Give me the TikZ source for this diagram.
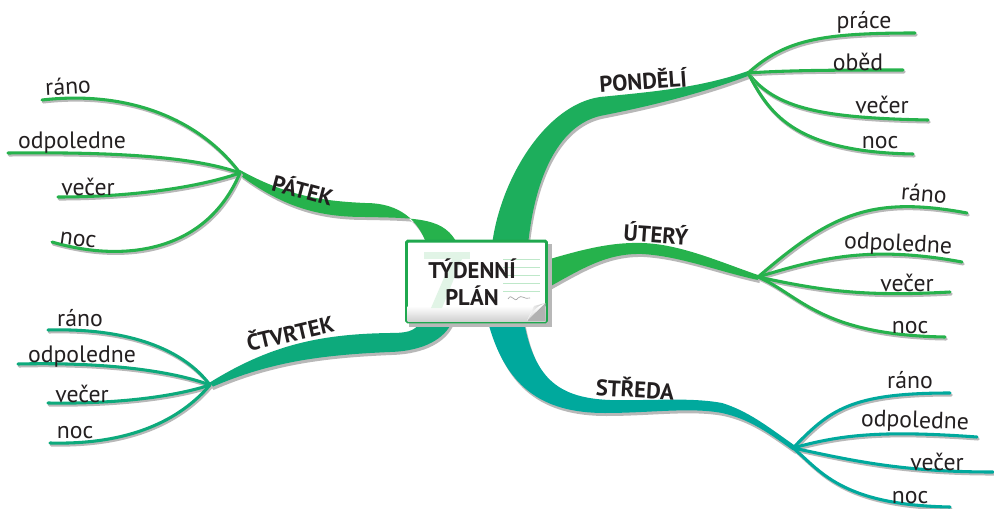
\documentclass[tikz,border=0pt]{standalone}
\usepackage{fontspec}
\setmainfont{PT Sans}
\definecolor{gA}{HTML}{26B24C}
\definecolor{gPon}{HTML}{1DAE5C}
\definecolor{gCt}{HTML}{0DAA7C}
\definecolor{gSt}{HTML}{00A99D}
\definecolor{txt}{HTML}{231F20}
\definecolor{shad}{HTML}{B8B8B8}
\definecolor{boxgreen}{HTML}{1FA84E}
\tikzset{
  sublab/.style={font=\fontsize{17.8}{17.8}\selectfont, text=txt, inner sep=0pt, anchor=center},
  mainlab/.style={font=\bfseries\fontsize{17}{17}\selectfont, text=txt, inner sep=0pt, anchor=center},
  twigline/.style={line width=2.3pt, line cap=round},
  twigshadow/.style={line width=2.3pt, line cap=round, draw=shad},
  bandshadow/.style={fill=shad},
}
\newcommand\twig[5]{%
  \draw[twigshadow, shift={(1.2,2)}] ([shift={(1.2,2)}]#2) .. controls #3 and #4 .. ([shift={(1.2,2)}]#5);
  \draw[twigline, draw=#1] (#2) .. controls #3 and #4 .. (#5);}
\newcommand\bandPon{(492,245) .. controls (500,180) and (545,105) .. (600,97) .. controls (650,92) and (700,88) .. (748,71) -- (748,76) .. controls (705,92) and (660,104) .. (605,115) .. controls (560,122) and (535,175) .. (528,245) -- cycle}
\newcommand\bandUte{(540,262) .. controls (580,250) and (610,242) .. (642,243) .. controls (680,244) and (720,262) .. (758,275) -- (758,280) .. controls (720,272) and (680,256) .. (642,254) .. controls (605,253) and (580,270) .. (540,292) -- cycle}
\newcommand\bandStr{(488,322) .. controls (505,385) and (540,413) .. (605,413) .. controls (650,413) and (690,407) .. (722,413) .. controls (750,419) and (770,434) .. (794,451) -- (794,445) .. controls (767,426) and (748,411) .. (722,403) .. controls (690,397) and (650,401) .. (610,400) .. controls (560,398) and (535,380) .. (524,322) -- cycle}
\newcommand\bandPat{(427,245) .. controls (418,220) and (400,203) .. (365,203) .. controls (320,201) and (285,195) .. (240,170) -- (241,176) .. controls (285,208) and (320,217) .. (365,217) .. controls (420,218) and (445,218) .. (458,245) -- cycle}
\newcommand\bandCtv{(420,322) .. controls (415,332) and (405,333) .. (390,333) .. controls (320,334) and (270,345) .. (209,383) -- (212,387) .. controls (270,362) and (320,355) .. (390,352) .. controls (425,351) and (445,338) .. (452,322) -- cycle}
\begin{document}
\begin{tikzpicture}[x=0.75pt,y=-0.75pt]
\useasboundingbox (0,0) rectangle (994,509);
% hubs
\coordinate (hPon) at (748,73);
\coordinate (hUte) at (758,277);
\coordinate (hStr) at (793,448);
\coordinate (hPat) at (240,173);
\coordinate (hCtv) at (210,385);
% twig ends
\coordinate (ePon1) at (915,33);
\coordinate (ePon2) at (903,70);
\coordinate (ePon3) at (928,120);
\coordinate (ePon4) at (913,154);
\coordinate (eUte1) at (967,213);
\coordinate (eUte2) at (962,262);
\coordinate (eUte3) at (950,292);
\coordinate (eUte4) at (945,337);
\coordinate (eStr1) at (950,393);
\coordinate (eStr2) at (977,437);
\coordinate (eStr3) at (993,472);
\coordinate (eStr4) at (950,507);
\coordinate (ePat1) at (42,100);
\coordinate (ePat2) at (8,153);
\coordinate (ePat3) at (58,197);
\coordinate (ePat4) at (52,242);
\coordinate (eCtv1) at (48,330);
\coordinate (eCtv2) at (18,364);
\coordinate (eCtv3) at (48,403);
\coordinate (eCtv4) at (50,443);
% band shadows
\begin{scope}[shift={(1.5,3)}]
  \fill[bandshadow] \bandPon;
  \fill[bandshadow] \bandUte;
  \fill[bandshadow] \bandStr;
  \fill[bandshadow] \bandPat;
  \fill[bandshadow] \bandCtv;
\end{scope}
% bands
\fill[gPon] \bandPon;
\fill[gA] \bandUte;
\fill[gSt] \bandStr;
\fill[gA] \bandPat;
\fill[gCt] \bandCtv;
% twigs: Pondeli
\twig{gA}{hPon}{(785,40)}{(820,33)}{ePon1}
\twig{gA}{hPon}{(790,70)}{(850,70)}{ePon2}
\twig{gA}{hPon}{(775,108)}{(820,118)}{ePon3}
\twig{gA}{hPon}{(768,110)}{(790,152)}{ePon4}
% Utery
\twig{gA}{hUte}{(830,215)}{(870,195)}{eUte1}
\twig{gA}{hUte}{(820,258)}{(870,245)}{eUte2}
\twig{gA}{hUte}{(820,290)}{(860,297)}{eUte3}
\twig{gA}{hUte}{(800,295)}{(820,335)}{eUte4}
% Streda
\twig{gSt}{hStr}{(830,410)}{(850,393)}{eStr1}
\twig{gSt}{hStr}{(840,435)}{(880,430)}{eStr2}
\twig{gSt}{hStr}{(850,460)}{(900,472)}{eStr3}
\twig{gSt}{hStr}{(820,470)}{(840,505)}{eStr4}
% Patek
\twig{gA}{hPat}{(200,120)}{(130,90)}{ePat1}
\twig{gA}{hPat}{(190,155)}{(100,152)}{ePat2}
\twig{gA}{hPat}{(190,190)}{(120,197)}{ePat3}
\twig{gA}{hPat}{(205,255)}{(120,262)}{ePat4}
% Ctvrtek
\twig{gCt}{hCtv}{(180,345)}{(120,328)}{eCtv1}
\twig{gCt}{hCtv}{(170,370)}{(100,362)}{eCtv2}
\twig{gCt}{hCtv}{(170,398)}{(110,404)}{eCtv3}
\twig{gCt}{hCtv}{(180,420)}{(130,445)}{eCtv4}
% central board
\fill[shad] (409,244) rectangle (552,327);
\node[draw=boxgreen, line width=2.2pt, fill=white, minimum width=105pt, minimum height=60.5pt, inner sep=0pt, rounded corners=1pt] (board) at (476.5,281.5) {};
\shade[top color=white, bottom color=black!18] (407.5,306) rectangle (545.5,321);
\fill[gA!14] (424,252) rectangle (470,259);
\fill[gA!14] (452,259) -- (462,259) -- (442,308) -- (431,308) -- cycle;
\foreach \yy in {259,267,275,283,291} { \draw[gA!30, line width=0.6pt] (503,\yy) -- (540,\yy); }
\draw[black!35, line width=0.5pt] (508,299) .. controls (512,292) and (514,304) .. (518,298) .. controls (522,294) and (524,300) .. (530,298);
\fill[black!30] (527,321) -- (545.5,303) -- (545.5,321) -- cycle;
\shade[left color=white, right color=black!25] (527,321) .. controls (531,313) and (536,306) .. (545.5,303) -- (534,306) .. controls (532,311) and (529,316) .. (527,321) -- cycle;
\node[font=\bfseries\fontsize{17}{20}\selectfont, text=txt, align=center, inner sep=0pt] (title) at (472,282) {TÝDENNÍ\\PLÁN};
% main labels
\node[mainlab, rotate=4] (lPon) at (643,80) {PONDĚLÍ};
\node[mainlab, rotate=-4] (lUte) at (656,233) {ÚTERÝ};
\node[mainlab, rotate=-3] (lStr) at (635,388) {STŘEDA};
\node[mainlab, rotate=-15] (lPat) at (303,189) {PÁTEK};
\node[mainlab, rotate=13] (lCtv) at (290,332) {ČTVRTEK};
% sub labels
\node[sublab] (pon1) at (864,22) {práce};
\node[sublab] (pon2) at (858,62) {oběd};
\node[sublab] (pon3) at (882,105) {večer};
\node[sublab] (pon4) at (880,143) {noc};
\node[sublab, rotate=-5] (ute1) at (924,193) {ráno};
\node[sublab, rotate=-3] (ute2) at (898,245) {odpoledne};
\node[sublab] (ute3) at (907,283) {večer};
\node[sublab] (ute4) at (910,328) {noc};
\node[sublab] (str1) at (910,380) {ráno};
\node[sublab, rotate=-2] (str2) at (915,422) {odpoledne};
\node[sublab] (str3) at (937,462) {večer};
\node[sublab] (str4) at (910,498) {noc};
\node[sublab, rotate=3] (pat1) at (68,86) {ráno};
\node[sublab] (pat2) at (72,143) {odpoledne};
\node[sublab] (pat3) at (88,187) {večer};
\node[sublab, rotate=-8] (pat4) at (78,240) {noc};
\node[sublab] (ctv1) at (80,318) {ráno};
\node[sublab] (ctv2) at (82,357) {odpoledne};
\node[sublab] (ctv3) at (82,394) {večer};
\node[sublab] (ctv4) at (75,433) {noc};
\end{tikzpicture}
\end{document}
